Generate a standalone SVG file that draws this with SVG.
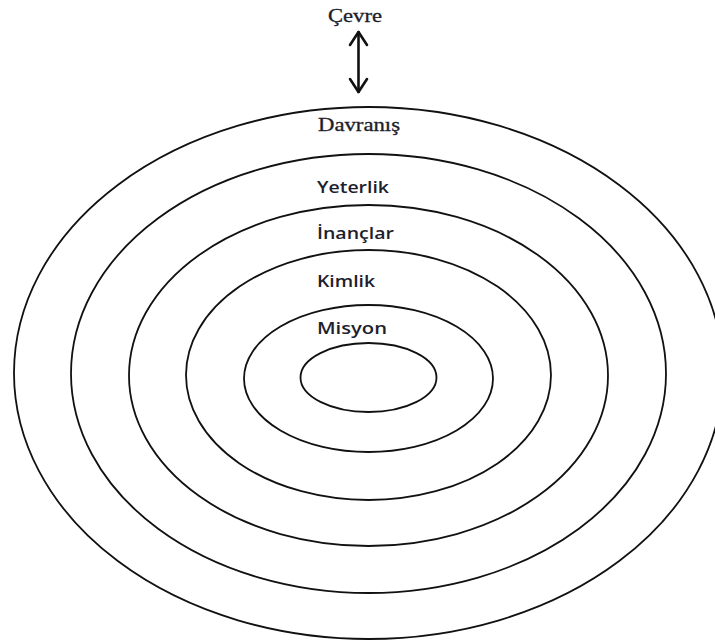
<svg xmlns="http://www.w3.org/2000/svg" width="715" height="641" viewBox="0 0 715 641">
<style>
.ring{fill:none;stroke:#111;stroke-width:1.8}
.serif{font-family:"Liberation Serif","Times New Roman",serif;font-size:18px;fill:#1e1e2a;stroke:#1e1e2a;stroke-width:0.3}
.sans{font-family:"Open Sans","Liberation Sans",sans-serif;font-weight:600;font-size:16px;fill:#1e1e2e}
.arr{fill:none;stroke:#111;stroke-width:2.6;stroke-linecap:round;stroke-linejoin:round}
</style>
<rect width="715" height="641" fill="#fff"/>
<g id="ring-davranis"><ellipse class="ring" cx="368.5" cy="373" rx="354.5" ry="266"/><text class="serif" x="318" y="131" textLength="82" lengthAdjust="spacingAndGlyphs">Davranış</text></g>
<g id="ring-yeterlik"><ellipse class="ring" cx="368.5" cy="373.5" rx="297.5" ry="219.5"/><text class="sans" x="317" y="193" textLength="72" lengthAdjust="spacingAndGlyphs">Yeterlik</text></g>
<g id="ring-inanclar"><ellipse class="ring" cx="368.5" cy="375.5" rx="239.5" ry="170.5"/><text class="sans" x="317" y="239" textLength="77" lengthAdjust="spacingAndGlyphs">İnançlar</text></g>
<g id="ring-kimlik"><ellipse class="ring" cx="368.5" cy="375" rx="182.5" ry="125"/><text class="sans" x="317" y="287" textLength="58" lengthAdjust="spacingAndGlyphs">Kimlik</text></g>
<g id="ring-misyon"><ellipse class="ring" cx="368.5" cy="378.5" rx="124.5" ry="73.5"/><text class="sans" x="317" y="334" textLength="70" lengthAdjust="spacingAndGlyphs">Misyon</text></g>
<g id="core"><ellipse class="ring" cx="368.5" cy="377.5" rx="68" ry="34.5"/></g>
<g id="cevre"><text class="serif" x="328" y="22" textLength="54" lengthAdjust="spacingAndGlyphs">Çevre</text></g>
<g id="connectors">
<line class="arr" x1="358.5" y1="32" x2="358.5" y2="92"/>
<polyline class="arr" points="350,45 358.5,32 367,45"/>
<polyline class="arr" points="350,79 358.5,92 367,79"/>
</g>
</svg>
